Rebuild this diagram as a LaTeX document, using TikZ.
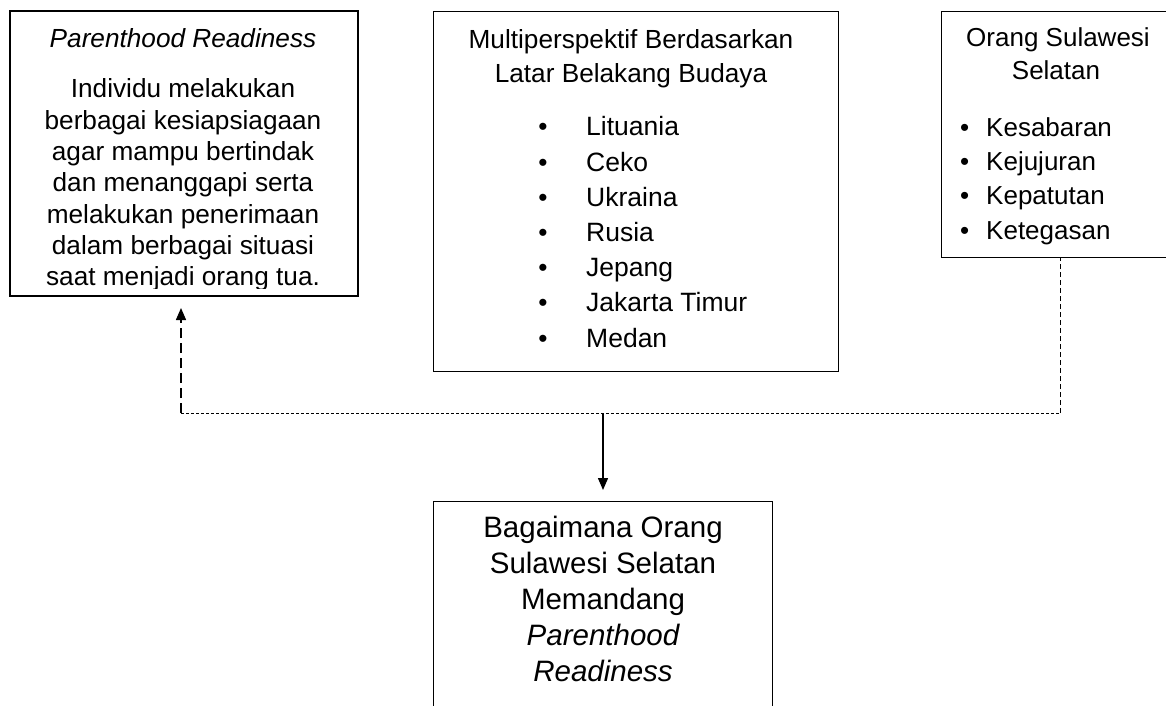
\documentclass[tikz,border=0pt]{standalone}
\usepackage{fontspec}
\setmainfont{Liberation Sans}
\usetikzlibrary{arrows.meta}
\begin{document}
\begin{tikzpicture}[x=1pt,y=-1pt,
  boxthin/.style={draw, line width=0.9pt, inner sep=0pt, anchor=north west},
  boxthick/.style={draw, line width=2pt, inner sep=0pt, anchor=north west},
  txt/.style={inner sep=0pt, anchor=base, font=\fontsize{26.2pt}{30pt}\selectfont},
  txtw/.style={inner sep=0pt, anchor=base west, font=\fontsize{26.5pt}{30pt}\selectfont},
  bigtxt/.style={inner sep=0pt, anchor=base, font=\fontsize{29.5pt}{33pt}\selectfont},
  dashlong/.style={line width=1.4pt, dash pattern=on 10pt off 5pt},
  dashfine/.style={line width=0.9pt, dash pattern=on 3pt off 2pt},
  dashmed/.style={line width=0.9pt, dash pattern=on 5pt off 3pt},
  tip/.style={-{Triangle[length=12pt,width=10pt]}},
]
\useasboundingbox (0,0) rectangle (1166,706);
\clip (0,0) rectangle (1166,706);
\fill[white] (0,0) rectangle (1166,706);

% boxes
\node[boxthick, minimum width=348pt, minimum height=285pt] (prbox) at (9,10) {};
\node[boxthin, minimum width=405pt, minimum height=360pt] (mpbox) at (433,11) {};
\node[boxthin, minimum width=232pt, minimum height=246pt] (ssbox) at (941,11) {};
\node[boxthin, minimum width=339pt, minimum height=230pt] (qbox) at (433,501) {};

% left box text (last line clipped as in the reference)
\begin{scope}
\clip (prbox.north west) rectangle ([yshift=8.5pt]prbox.south east);
\node[txt, font=\fontsize{26.2pt}{30pt}\selectfont\itshape] (pr0) at (183,48) {Parenthood Readiness};
\node[txt] (pr1) at (183,98) {Individu melakukan};
\node[txt] (pr2) at (183,129.3) {berbagai kesiapsiagaan};
\node[txt] (pr3) at (183,160.6) {agar mampu bertindak};
\node[txt] (pr4) at (183,191.9) {dan menanggapi serta};
\node[txt] (pr5) at (183,223.2) {melakukan penerimaan};
\node[txt] (pr6) at (183,254.5) {dalam berbagai situasi};
\node[txt] (pr7) at (183,285.8) {saat menjadi orang tua.};
\end{scope}

% middle box text
\node[txt] (mp0) at (631,49) {Multiperspektif Berdasarkan};
\node[txt] (mp00) at (631,83) {Latar Belakang Budaya};
\foreach \t [count=\i] in {Lituania,Ceko,Ukraina,Rusia,Jepang,Jakarta Timur,Medan}{
  \node[txt] (mpb\i) at (543,{100.6+35.2*\i}) {•};
  \node[txtw] (mpt\i) at (586,{100.6+35.2*\i}) {\t};
}

% right box text
\node[txt, font=\fontsize{26pt}{30pt}\selectfont] (ss0) at (1058,47) {Orang Sulawesi};
\node[txt, font=\fontsize{26pt}{30pt}\selectfont] (ss00) at (1056,80) {Selatan};
\foreach \t [count=\i] in {Kesabaran,Kejujuran,Kepatutan,Ketegasan}{
  \node[txtw, font=\fontsize{26pt}{30pt}\selectfont] (ssb\i) at (960,{102+34.3*\i}) {•};
  \node[txtw, font=\fontsize{26pt}{30pt}\selectfont] (sst\i) at (986,{102+34.3*\i}) {\t};
}

% bottom box text
\node[bigtxt] (q1) at (603,537) {Bagaimana Orang};
\node[bigtxt] (q2) at (603,573) {Sulawesi Selatan};
\node[bigtxt] (q3) at (603,609) {Memandang};
\node[bigtxt, font=\fontsize{29.5pt}{33pt}\selectfont\itshape] (q4) at (603,645) {Parenthood};
\node[bigtxt, font=\fontsize{29.5pt}{33pt}\selectfont\itshape] (q5) at (603,681) {Readiness};

% connectors
\coordinate (jl) at (181,413);
\coordinate (jr) at (1060,413);
\coordinate (jm) at (603,413);
\draw[dashfine] (jl) -- (jr);
\draw[dashmed] (jr) -- (ssbox.south -| jr);
\draw[dashlong, tip] (jl) -- ([yshift=-11pt]prbox.south -| jl);
\draw[line width=1.4pt, tip] (jm) -- ([yshift=11pt]qbox.north -| jm);
\end{tikzpicture}
\end{document}
